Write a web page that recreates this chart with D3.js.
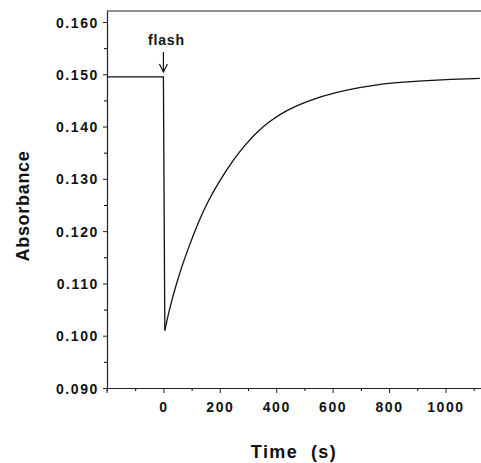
<!DOCTYPE html>
<html>
<head>
<meta charset="utf-8">
<script src="https://cdn.jsdelivr.net/npm/d3@7"></script>
<style>
  body { margin: 0; background: #fff; }
  text { font-family: "Liberation Sans", Arial, sans-serif; font-weight: bold; fill: #111; }
</style>
</head>
<body>
<div id="chart-area"></div>
<script>
// absorbance trace
let times = [-200, -100, -1, 0, 5, 20, 42, 65, 90, 125, 160, 208, 250, 290, 330, 379, 432, 509, 615, 700, 756, 830, 898, 1000, 1122];
let absorb = [0.1495, 0.1495, 0.1495, 0.1495, 0.1010, 0.1048, 0.1092, 0.1132, 0.1170, 0.1219, 0.1260, 0.1304, 0.1338, 0.1365, 0.1389, 0.1411, 0.1430, 0.1449, 0.1466, 0.1475, 0.1480, 0.1484, 0.1487, 0.1490, 0.1492];

let xTicks = [0, 200, 400, 600, 800, 1000];
let xMinor = [-200, -100, 100, 300, 500, 700, 900, 1100];
let yTicks = [0.090, 0.100, 0.110, 0.120, 0.130, 0.140, 0.150, 0.160];
let yMinor = [0.095, 0.105, 0.115, 0.125, 0.135, 0.145, 0.155];

let margin = { left: 107, top: 11, right: 0, bottom: 75 };
let width = 481 - margin.left - margin.right;
let height = 463 - margin.top - margin.bottom;

let svg = d3.select("#chart-area")
	.append("svg")
	.attr("width", 481)
	.attr("height", 463);

let g = svg.append("g")
	.attr("transform", `translate(${margin.left}, ${margin.top})`);

let xScale = d3.scaleLinear()
	.domain([-200, 1126])
	.range([0, width]);

let yScale = d3.scaleLinear()
	.domain([0.090, 0.1621])
	.range([height, 0]);

// frame top line
g.append("line")
	.attr("x1", 0).attr("x2", width)
	.attr("y1", 0).attr("y2", 0)
	.attr("stroke", "#222").attr("stroke-width", 1.2);

// minor ticks
g.append("g")
	.attr("transform", `translate(0, ${height})`)
	.call(d3.axisBottom(xScale).tickValues(xMinor).tickSize(3).tickFormat(""))
	.call(a => a.select(".domain").remove());

g.append("g")
	.call(d3.axisLeft(yScale).tickValues(yMinor).tickSize(3).tickFormat(""))
	.call(a => a.select(".domain").remove());

let xAxis = g.append("g")
	.attr("transform", `translate(0, ${height})`)
	.call(d3.axisBottom(xScale).tickValues(xTicks).tickSize(5).tickSizeOuter(0).tickPadding(9).tickFormat(d3.format("d")));

let yAxis = g.append("g")
	.call(d3.axisLeft(yScale).tickValues(yTicks).tickSize(4).tickSizeOuter(0).tickPadding(4).tickFormat(d3.format(".3f")));

// corner tick at -200 on x axis
g.append("line")
	.attr("x1", xScale(-200)).attr("x2", xScale(-200))
	.attr("y1", height).attr("y2", height + 5)
	.attr("stroke", "#222");

[xAxis, yAxis].forEach(function(a){
	a.selectAll(".domain").attr("stroke", "#222").attr("stroke-width", 1.2);
	a.selectAll("line").attr("stroke", "#222");
	a.selectAll("text")
		.attr("font-size", "14px")
		.attr("letter-spacing", "1.6px")
		.style("font-family", "'Liberation Sans', Arial, sans-serif")
		.style("font-weight", "bold")
		.attr("fill", "#111");
});
yAxis.selectAll("text").attr("dy", "0.36em");

// flat part + drop drawn straight, recovery smoothed
let preIdx = [0, 1, 2, 3, 4];
g.append("path")
	.attr("d", d3.line().x(i => xScale(times[i])).y(i => yScale(absorb[i]))(preIdx))
	.attr("fill", "none")
	.attr("stroke", "#111")
	.attr("stroke-width", 1.3);

let recIdx = d3.range(4, times.length);
g.append("path")
	.attr("d", d3.line().x(i => xScale(times[i])).y(i => yScale(absorb[i])).curve(d3.curveBasis)(recIdx))
	.attr("fill", "none")
	.attr("stroke", "#111")
	.attr("stroke-width", 1.3);

// flash annotation
g.append("text")
	.attr("x", xScale(0) + 3)
	.attr("y", 34)
	.attr("text-anchor", "middle")
	.attr("font-size", "14px")
	.attr("letter-spacing", "0.8px")
	.text("flash");

g.append("line")
	.attr("x1", xScale(0)).attr("x2", xScale(0))
	.attr("y1", 41).attr("y2", 61)
	.attr("stroke", "#111").attr("stroke-width", 1.2);
g.append("path")
	.attr("d", `M${xScale(0) - 4},${53} L${xScale(0)},${61} L${xScale(0) + 4},${53}`)
	.attr("fill", "none")
	.attr("stroke", "#111").attr("stroke-width", 1.2);

// axis titles
svg.append("text")
	.attr("text-anchor", "middle")
	.attr("font-size", "18px")
	.attr("letter-spacing", "0.7px")
	.attr("transform", "translate(29, 206) rotate(-90)")
	.text("Absorbance");

svg.append("text")
	.attr("text-anchor", "middle")
	.attr("font-size", "18px")
	.attr("letter-spacing", "1.4px")
	.attr("x", 294)
	.attr("y", 458)
	.attr("xml:space", "preserve")
	.style("white-space", "pre")
	.text("Time  (s)");
</script>
</body>
</html>
